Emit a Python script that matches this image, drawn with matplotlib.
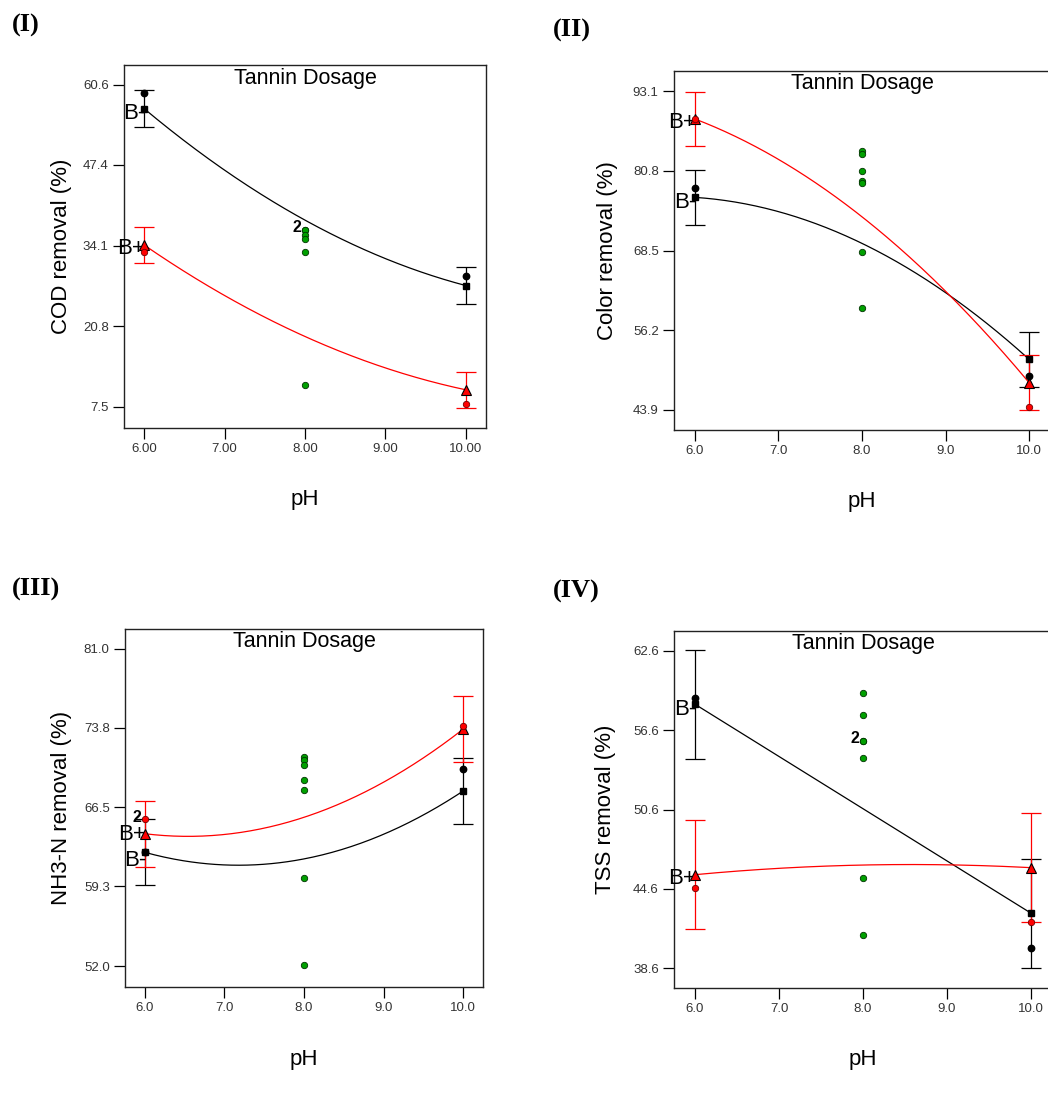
import numpy as np
import matplotlib.pyplot as plt

plt.rcParams['font.family'] = ['Liberation Sans', 'DejaVu Sans']

FIG_W, FIG_H = 1048, 1102

ph = [6.0, 8.0, 10.0]
ph_ends = [6.0, 10.0]

# (I) COD removal
cod_bminus_fit = [56.7, 38.3, 27.5]
cod_bplus_fit = [34.2, 19.1, 10.3]
cod_bminus_obs = [59.3, 29.1]
cod_bplus_obs = [33.0, 8.0]
cod_center = [36.7, 36.7, 35.9, 35.2, 33.1, 11.1]
cod_lsd = 3.0
cod_ticks = [7.5, 20.8, 34.1, 47.4, 60.6]
cod_ylim = [4.0, 63.9]

# (II) Color removal
color_bminus_fit = [76.7, 69.6, 51.7]
color_bplus_fit = [88.8, 73.7, 48.1]
color_bminus_obs = [78.1, 49.2]
color_bplus_obs = [88.8, 44.3]
color_center = [83.9, 83.4, 80.7, 79.2, 78.9, 68.2, 59.6]
color_lsd = 4.2
color_ticks = [43.9, 56.2, 68.5, 80.8, 93.1]
color_ylim = [40.8, 96.2]

# (III) NH3-N removal
nh3_bminus_fit = [62.4, 61.8, 68.0]
nh3_bplus_fit = [64.1, 65.6, 73.65]
nh3_bminus_obs = [62.4, 70.0]
nh3_bplus_obs = [65.4, 73.9]
nh3_center = [71.1, 70.8, 70.4, 69.05, 68.05, 60.1, 52.1]
nh3_lsd = 3.0
nh3_ticks = [52.0, 59.3, 66.5, 73.8, 81.0]
nh3_ylim = [50.1, 82.8]

# (IV) TSS removal
tss_bminus_fit = [58.56, 50.66, 42.76]
tss_bplus_fit = [45.67, 46.4, 46.2]
tss_bminus_obs = [59.06, 40.1]
tss_bplus_obs = [44.7, 42.1]
tss_center = [59.4, 57.75, 55.8, 55.8, 54.5, 45.4, 41.1]
tss_lsd = 4.12
tss_ticks = [38.6, 44.6, 50.6, 56.6, 62.6]
tss_ylim = [37.1, 64.1]


def px_rect(left, top, right, bottom):
    """Pixel box -> figure fraction rect."""
    return [left / FIG_W, 1 - bottom / FIG_H, (right - left) / FIG_W, (bottom - top) / FIG_H]


def plot_panel(ax, bminus_fit, bplus_fit, bminus_obs, bplus_obs, center, lsd,
               yticks, ylim, ylabel, xfmt, label_px, dup_point=None, b_shift=(-5, -4)):
    xs = np.linspace(6, 10, 200)
    for fit, col in [(bminus_fit, 'black'), (bplus_fit, 'red')]:
        coef = np.polyfit(ph, fit, 2)
        ax.plot(xs, np.polyval(coef, xs), color=col, lw=0.9, zorder=2)
        ax.errorbar(ph_ends, [fit[0], fit[2]], yerr=lsd, fmt='none', ecolor=col,
                    elinewidth=0.9, capsize=7, capthick=0.9, zorder=2)

    ax.plot(ph_ends, [bminus_fit[0], bminus_fit[2]], 's', color='black', ms=4.8, zorder=4)
    ax.plot(ph_ends, [bplus_fit[0], bplus_fit[2]], '^', mfc='red', mec='black',
            mew=0.8, ms=7, zorder=4)
    ax.plot(ph_ends, bminus_obs, 'o', mfc='black', mec='black', ms=4.6, zorder=5)
    ax.plot(ph_ends, bplus_obs, 'o', mfc='red', mec='#700000', mew=0.6, ms=4.6, zorder=5)
    ax.plot([8.0] * len(center), center, 'o', mfc='#00a000', mec='#003300',
            mew=0.6, ms=4.6, zorder=5)

    # B- / B+ labels beside the pH 6 end
    ax.annotate('B-', (6.0, bminus_fit[0]), xytext=(1, b_shift[0]), textcoords='offset pixels',
                ha='right', va='center', fontsize=16, zorder=3)
    ax.annotate('B+', (6.0, bplus_fit[0]), xytext=(1, b_shift[1]), textcoords='offset pixels',
                ha='right', va='center', fontsize=16, zorder=3)
    if dup_point is not None:
        ax.annotate('2', dup_point, xytext=(-4, 2), textcoords='offset pixels',
                    ha='right', va='center', fontsize=11.5, fontweight='bold', zorder=6)

    ax.text(0.5, 0.964, 'Tannin Dosage', transform=ax.transAxes, ha='center',
            va='center', fontsize=15.5)

    ax.set_xlim(5.75, 10.25)
    ax.set_ylim(ylim)
    ax.set_xticks([6, 7, 8, 9, 10])
    ax.set_xticklabels([xfmt.format(v) for v in [6, 7, 8, 9, 10]])
    ax.set_yticks(yticks)
    ax.set_yticklabels(['{:.1f}'.format(v) for v in yticks])
    ax.tick_params(direction='out', length=8, width=0.9, labelsize=9.5,
                   labelcolor='#333333', pad=3)
    for sp in ax.spines.values():
        sp.set_linewidth(1.0)
        sp.set_color('#222222')

    w_px = ax.get_position().width * FIG_W
    h_px = ax.get_position().height * FIG_H
    ax.set_ylabel(ylabel, fontsize=16, va='center')
    ax.yaxis.set_label_coords(-label_px[0] / w_px, 0.5)
    ax.set_xlabel('pH', fontsize=16, va='center')
    ax.xaxis.set_label_coords(0.5, -label_px[1] / h_px)


fig = plt.figure(figsize=(FIG_W / 100, FIG_H / 100), dpi=100)

ax1 = fig.add_axes(px_rect(124, 65, 486, 428))
plot_panel(ax1, cod_bminus_fit, cod_bplus_fit, cod_bminus_obs, cod_bplus_obs,
           cod_center, cod_lsd, cod_ticks, cod_ylim, 'COD removal (%)', '{:.2f}',
           (62, 72), (8.0, cod_center[0]))

ax2 = fig.add_axes(px_rect(674, 71, 1050, 430))
plot_panel(ax2, color_bminus_fit, color_bplus_fit, color_bminus_obs, color_bplus_obs,
           color_center, color_lsd, color_ticks, color_ylim, 'Color removal (%)', '{:.1f}',
           (67, 72))

ax3 = fig.add_axes(px_rect(125, 629, 483, 987))
plot_panel(ax3, nh3_bminus_fit, nh3_bplus_fit, nh3_bminus_obs, nh3_bplus_obs,
           nh3_center, nh3_lsd, nh3_ticks, nh3_ylim, 'NH3-N removal (%)', '{:.1f}',
           (63, 72), (6.0, nh3_bplus_obs[0]), b_shift=(-8, -1))

ax4 = fig.add_axes(px_rect(674, 631, 1052, 988))
plot_panel(ax4, tss_bminus_fit, tss_bplus_fit, tss_bminus_obs, tss_bplus_obs,
           tss_center, tss_lsd, tss_ticks, tss_ylim, 'TSS removal (%)', '{:.1f}',
           (68, 71), (8.0, tss_center[2]))

for txt, x, y in [('(I)', 12, 25), ('(II)', 553, 30), ('(III)', 12, 589), ('(IV)', 553, 591)]:
    fig.text(x / FIG_W, 1 - y / FIG_H, txt, family=['Liberation Serif', 'DejaVu Serif'],
             fontweight='bold', fontsize=19, ha='left', va='center')

fig.savefig('out.png', dpi=100)
plt.close(fig)
